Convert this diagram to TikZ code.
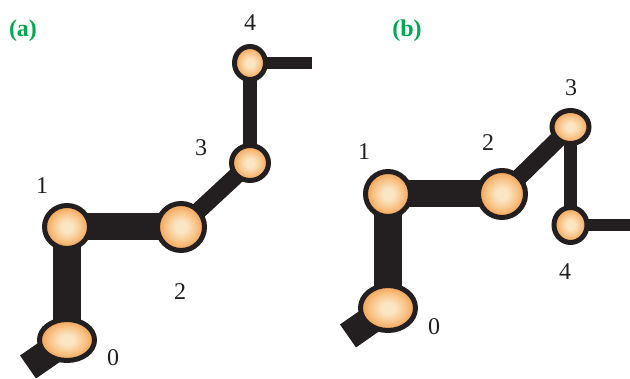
\documentclass[tikz,border=0pt]{standalone}
\usepackage{fontspec}
\setmainfont{Liberation Serif}
\usetikzlibrary{shapes.geometric,backgrounds}
\definecolor{dark}{HTML}{231F20}
\definecolor{jin}{HTML}{FBE6C4}
\definecolor{jmid}{HTML}{F8C488}
\definecolor{jout}{HTML}{F29E4E}
\definecolor{lblgreen}{HTML}{00A651}
\pgfdeclareradialshading{jointshade}{\pgfpoint{0bp}{0bp}}{color(0bp)=(jin); color(6bp)=(jin); color(16bp)=(jmid); color(25bp)=(jout); color(50bp)=(jout)}
\tikzset{
  joint/.style={ellipse, draw=dark, line width=5pt, shading=jointshade, inner sep=0pt},
  link/.style={draw=dark, line width=#1, line cap=butt},
  num/.style={font=\fontsize{24}{28}\selectfont, text=dark, inner sep=0pt},
  panel/.style={font=\fontsize{24}{28}\selectfont\bfseries, text=lblgreen, inner sep=0pt}
}
\newcommand{\jnode}[4]{\node[joint, minimum width=#3*2pt-5pt, minimum height=#4*2pt-5pt] (#1) at (#2) {};}
\begin{document}
\begin{tikzpicture}[x=1pt,y=-1pt]
\useasboundingbox (0,0) rectangle (630,379);
\clip (0,0) rectangle (630,379);
% panel (a)
\jnode{a0}{67,340}{30}{23}
\jnode{a1}{67,227}{25}{24}
\jnode{a2}{181,227}{26}{26}
\jnode{a3}{250,163}{21}{20}
\jnode{a4}{250,63}{18}{19}
\coordinate (a0b) at (28,367);
\coordinate (a4e) at (312,63);
% panel (b)
\jnode{b0}{388,308}{30}{25}
\jnode{b1}{388,194}{25}{25}
\jnode{b2}{502,194}{26}{26}
\jnode{b3}{570.5,127}{21}{19}
\jnode{b4}{570.5,225}{19}{20}
\coordinate (b0b) at (348,336);
\coordinate (b4e) at (632,225);
\begin{scope}[on background layer]
\draw[link=28pt] (a0.center) -- (a0b);
\draw[link=28pt] (a0.center) -- (a1.center);
\draw[link=27pt] (a1.center) -- (a2.center);
\draw[link=17pt] (a2.center) -- (a3.center);
\draw[link=14pt] (a3.center) -- (a4.center);
\draw[link=12pt] (a4.center) -- (a4e);
\draw[link=28pt] (b0.center) -- (b0b);
\draw[link=28pt] (b0.center) -- (b1.center);
\draw[link=27pt] (b1.center) -- (b2.center);
\draw[link=17pt] (b2.center) -- (b3.center);
\draw[link=13pt] (b3.center) -- (b4.center);
\draw[link=12pt] (b4.center) -- (b4e);
\end{scope}
\node[panel] (pa) at (23,31) {(a)};
\node[panel] (pb) at (407,31) {(b)};
\node[num] (la4) at (250,23) {4};
\node[num] (la3) at (201,148) {3};
\node[num] (la1) at (42,186) {1};
\node[num] (la2) at (180,292) {2};
\node[num] (la0) at (113,358) {0};
\node[num] (lb1) at (364,152) {1};
\node[num] (lb2) at (488,143) {2};
\node[num] (lb3) at (571,88) {3};
\node[num] (lb4) at (565,272) {4};
\node[num] (lb0) at (434,327) {0};
\end{tikzpicture}
\end{document}
